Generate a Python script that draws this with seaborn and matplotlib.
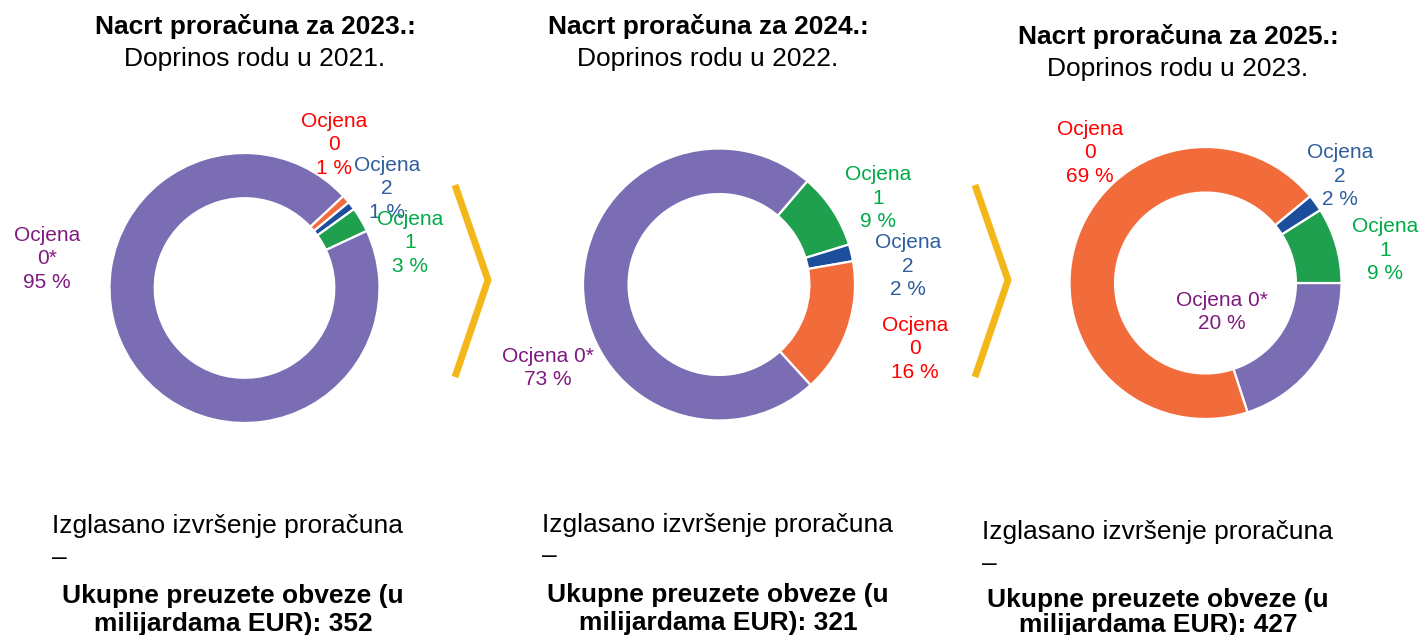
import matplotlib
matplotlib.use("Agg")
import matplotlib.pyplot as plt
from matplotlib.lines import Line2D
import seaborn as sns

# --------------------------------------------------------------
# Data
# --------------------------------------------------------------
titles = ["Nacrt proračuna za 2023.:", "Nacrt proračuna za 2024.:", "Nacrt proračuna za 2025.:"]
subtitles = ["Doprinos rodu u 2021.", "Doprinos rodu u 2022.", "Doprinos rodu u 2023."]

# wedge order is clockwise, as drawn in the reference
cats_2023 = ["0", "2", "1", "0*"]
vals_2023 = [1, 1, 3, 95]
cats_2024 = ["1", "2", "0", "0*"]
vals_2024 = [9, 2, 16, 73]
cats_2025 = ["0*", "0", "2", "1"]
vals_2025 = [20, 69, 2, 9]

totals = [352, 321, 427]
bottom_line = "Izglasano izvršenje proračuna"
bottom_bold = "Ukupne preuzete obveze (u\nmilijardama EUR): {}"

# --------------------------------------------------------------
# Styling / layout
# --------------------------------------------------------------
sns.set_theme(style="white")
plt.rcParams["font.family"] = ["Liberation Sans", "DejaVu Sans"]

wedge_col = dict(zip(["0*", "0", "1", "2"],
                     sns.color_palette(["#7A6DB3", "#F26B3B", "#1FA04E", "#1C4E9C"])))
text_col = {"0*": "#7E1A7E", "0": "#FF0000", "1": "#00AA46", "2": "#2E5E9E"}

W, H = 1419, 635
fig = plt.figure(figsize=(W / 100, H / 100), dpi=100)
fig.patch.set_facecolor("white")


def fx(px):
    return px / W


def fy(py):
    return (H - py) / H


charts = [
    dict(cats=cats_2023, vals=vals_2023, center=(244.5, 288), r=135, start=43,
         lab={"0*": (47, 259, True), "0": (334, 145, True), "2": (387, 189, True), "1": (410, 243, True)},
         title_x=255, title_y=(34, 66), bottom_x=(52, 233), bottom_y=(533, 565, 603, 631)),
    dict(cats=cats_2024, vals=vals_2024, center=(719, 284.5), r=136, start=49.5,
         lab={"1": (878, 198, True), "2": (908, 266, True), "0": (915, 349, True), "0*": (548, 368, False)},
         title_x=708, title_y=(34, 66), bottom_x=(542, 718), bottom_y=(532, 563, 602, 630)),
    dict(cats=cats_2025, vals=vals_2025, center=(1205.5, 283), r=136, start=0,
         lab={"0": (1090, 153, True), "2": (1340, 176, True), "1": (1385, 250, True), "0*": (1222, 312, False)},
         title_x=1178, title_y=(44, 76), bottom_x=(982, 1158), bottom_y=(539, 571, 607, 632)),
]

for i, ch in enumerate(charts):
    cx, cy = ch["center"]
    r = ch["r"]
    ax = fig.add_axes([fx(cx - r), fy(cy + r), fx(2 * r), 2 * r / H])
    ax.pie(ch["vals"], colors=[wedge_col[c] for c in ch["cats"]],
           startangle=ch["start"], counterclock=False, radius=1,
           wedgeprops=dict(width=0.335, edgecolor="white", linewidth=1.6))
    ax.set_xlim(-1.0, 1.0)
    ax.set_ylim(-1.0, 1.0)
    ax.axis("off")

    # wedge labels
    for c, v in zip(ch["cats"], ch["vals"]):
        x, y, split = ch["lab"][c]
        txt = f"Ocjena\n{c}\n{v} %" if split else f"Ocjena {c}\n{v} %"
        fig.text(fx(x), fy(y), txt, ha="center", va="center", fontsize=15,
                 color=text_col[c], linespacing=1.3)

    # titles
    fig.text(fx(ch["title_x"]), fy(ch["title_y"][0]), titles[i], ha="center",
             va="baseline", fontsize=19, fontweight="bold", color="black")
    fig.text(fx(ch["title_x"]), fy(ch["title_y"][1]), subtitles[i], ha="center",
             va="baseline", fontsize=19, color="black")

    # bottom texts
    bx, bc = ch["bottom_x"]
    by = ch["bottom_y"]
    fig.text(fx(bx), fy(by[0]), bottom_line, ha="left", va="baseline", fontsize=19, color="black")
    fig.text(fx(bx), fy(by[1]), "–", ha="left", va="baseline", fontsize=19, color="black")
    line1, line2 = bottom_bold.format(totals[i]).split("\n")
    fig.text(fx(bc), fy(by[2]), line1, ha="center", va="baseline", fontsize=19,
             fontweight="bold", color="black")
    fig.text(fx(bc), fy(by[3]), line2, ha="center", va="baseline", fontsize=19,
             fontweight="bold", color="black")

# yellow chevrons between the panels
for x0 in [455, 975]:
    fig.add_artist(Line2D([fx(x0), fx(x0 + 33), fx(x0)], [fy(185), fy(280), fy(377)],
                          color="#F4B71A", linewidth=5, solid_joinstyle="miter",
                          solid_capstyle="butt"))

fig.savefig("out.png", dpi=100, facecolor="white")
